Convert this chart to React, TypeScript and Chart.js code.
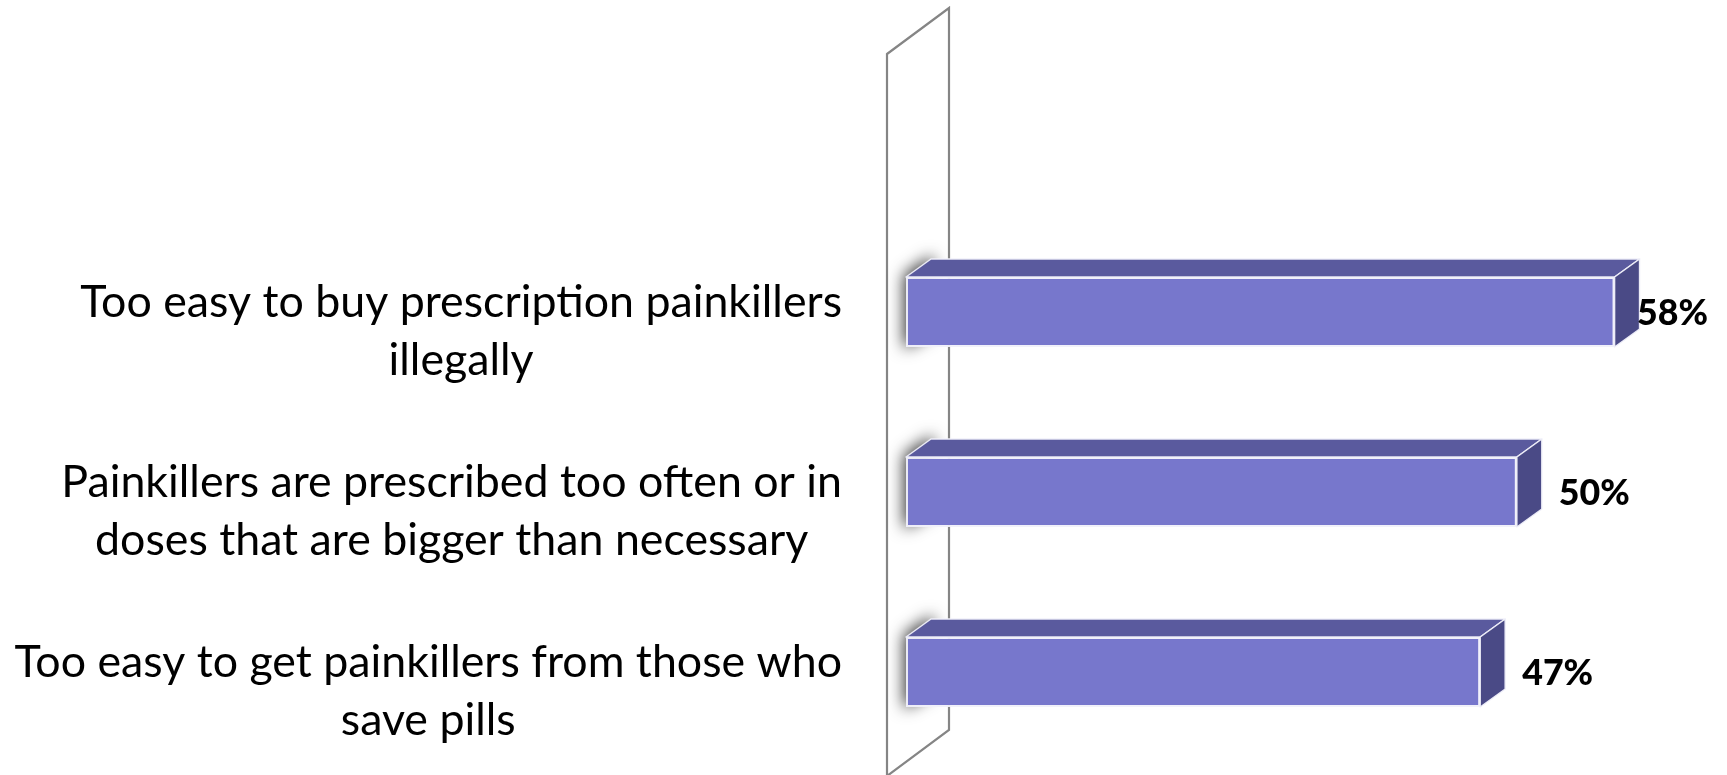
import React, { useEffect, useRef } from "react";
import { Chart, registerables } from "chart.js";

Chart.register(...registerables);

// ---- data ----
const categories: string[][] = [
  ["Too easy to buy prescription painkillers", "illegally"],
  ["Painkillers are prescribed too often or in", "doses that are bigger than necessary"],
  ["Too easy to get painkillers from those who", "save pills"],
];
const values: number[] = [58, 50, 47];
const valueLabels: string[] = ["58%", "50%", "47%"];
const axisMin = 0;
const axisMax = 60;

// ---- styling ----
const W = 1727;
const H = 775;
const FRONT = "#7777CC";
const TOP = "#5A5A9E";
const SIDE = "#4A4A86";
const EDGE = "rgba(240,240,250,0.95)";
const WALL = "#858585";
const FONT = "Lato, 'Open Sans', sans-serif";
const DX = 25; // bar depth x
const DY = 18; // bar depth y (up)

function barGeom(chart: any) {
  const meta = chart.getDatasetMeta(0);
  return meta.data.map((el: any) => {
    const p = el.getProps(["x", "y", "base", "height"], true);
    return { x: p.x, y: p.y, base: p.base, h: p.height };
  });
}

const threeD = {
  id: "threeD",
  beforeDatasetsDraw(chart: any) {
    const ctx = chart.ctx as CanvasRenderingContext2D;
    const area = chart.chartArea;
    const catH = (area.bottom - area.top) / categories.length;
    // wall
    const fx = area.left - 19;
    const bx = area.left + 43;
    const topY = area.top - catH - 2;
    const botY = area.bottom;
    ctx.save();
    ctx.strokeStyle = WALL;
    ctx.lineWidth = 2.2;
    ctx.beginPath();
    ctx.moveTo(fx, topY + 14);
    ctx.lineTo(bx, topY - 32);
    ctx.lineTo(bx, botY - 32);
    ctx.lineTo(fx, botY + 14);
    ctx.closePath();
    ctx.stroke();
    ctx.restore();
    // shadows at bar ends
    const bars = barGeom(chart);
    bars.forEach((b: any) => {
      const t = b.y - b.h / 2;
      const bt = b.y + b.h / 2;
      ctx.save();
      ctx.shadowColor = "rgba(0,0,0,0.8)";
      ctx.shadowBlur = 16;
      ctx.shadowOffsetX = 5000;
      ctx.shadowOffsetY = 0;
      ctx.translate(-5000, 0);
      ctx.fillStyle = "#000";
      ctx.beginPath();
      ctx.moveTo(b.base - 2, t - 2);
      ctx.lineTo(b.base + DX + 2, t - DY - 4);
      ctx.lineTo(b.base + DX + 2, bt - DY + 4);
      ctx.lineTo(b.base - 2, bt + 2);
      ctx.closePath();
      ctx.fill();
      ctx.restore();
    });
  },
  afterDatasetsDraw(chart: any) {
    const ctx = chart.ctx as CanvasRenderingContext2D;
    const bars = barGeom(chart);
    ctx.save();
    ctx.lineJoin = "round";
    ctx.lineWidth = 1.5;
    ctx.strokeStyle = EDGE;
    bars.forEach((b: any) => {
      const t = b.y - b.h / 2;
      const bt = b.y + b.h / 2;
      // top face
      ctx.fillStyle = TOP;
      ctx.beginPath();
      ctx.moveTo(b.base, t);
      ctx.lineTo(b.base + DX, t - DY);
      ctx.lineTo(b.x + DX, t - DY);
      ctx.lineTo(b.x, t);
      ctx.closePath();
      ctx.fill();
      ctx.stroke();
      // side face
      ctx.fillStyle = SIDE;
      ctx.beginPath();
      ctx.moveTo(b.x, t);
      ctx.lineTo(b.x + DX, t - DY);
      ctx.lineTo(b.x + DX, bt - DY);
      ctx.lineTo(b.x, bt);
      ctx.closePath();
      ctx.fill();
      ctx.stroke();
    });
    ctx.restore();
  },
  afterDraw(chart: any) {
    const ctx = chart.ctx as CanvasRenderingContext2D;
    const bars = barGeom(chart);
    const yScale = chart.scales.y;
    // category labels
    ctx.save();
    ctx.font = `400 40px ${FONT}`;
    const refW = ctx.measureText(categories[0][0]).width;
    const size = (40 * 762) / refW;
    ctx.font = `400 ${size}px ${FONT}`;
    ctx.fillStyle = "#000";
    ctx.textAlign = "center";
    ctx.textBaseline = "middle";
    const lineH = 58;
    const rightEdge = 842;
    categories.forEach((lines, i) => {
      const cy = yScale.getPixelForValue(i) + 20;
      const boxW = Math.max(...lines.map((l) => ctx.measureText(l).width));
      const cx = rightEdge - boxW / 2;
      const y0 = cy - ((lines.length - 1) * lineH) / 2;
      lines.forEach((l, k) => ctx.fillText(l, cx, y0 + k * lineH));
    });
    ctx.restore();
    // value labels
    ctx.save();
    ctx.font = `900 36px ${FONT}`;
    const vw = ctx.measureText("50%").width;
    const vsize = (36 * 71) / vw;
    ctx.font = `900 ${vsize}px ${FONT}`;
    ctx.fillStyle = "#000";
    ctx.textAlign = "left";
    ctx.textBaseline = "middle";
    bars.forEach((b: any, i: number) => {
      const txt = valueLabels[i];
      const tw = ctx.measureText(txt).width;
      let lx = b.x + DX + 17;
      if (lx + tw > 1708) lx = 1708 - tw;
      ctx.fillText(txt, lx, b.y + 1);
    });
    ctx.restore();
  },
};

export default function App() {
  const ref = useRef<HTMLCanvasElement | null>(null);
  useEffect(() => {
    if (!ref.current) return;
    const chart = new Chart(ref.current, {
      type: "bar",
      data: {
        labels: categories.map((c) => c.join(" ")),
        datasets: [
          {
            data: values,
            backgroundColor: FRONT,
            borderColor: EDGE,
            borderWidth: 2,
            borderSkipped: false,
            categoryPercentage: 1,
            barPercentage: 70 / 180,
          },
        ],
      },
      options: {
        indexAxis: "y",
        responsive: false,
        animation: false,
        devicePixelRatio: 1,
        layout: { padding: { left: 906, right: 88, top: 222, bottom: 13 } },
        scales: {
          x: { min: axisMin, max: axisMax, display: false },
          y: { display: false },
        },
        plugins: {
          legend: { display: false },
          tooltip: { enabled: false },
        },
      },
      plugins: [threeD],
    } as any);
    return () => chart.destroy();
  }, []);
  return (
    <div style={{ position: "absolute", left: 0, top: 0, width: W, height: H, background: "#fff" }}>
      <canvas ref={ref} width={W} height={H} style={{ display: "block" }} />
    </div>
  );
}
